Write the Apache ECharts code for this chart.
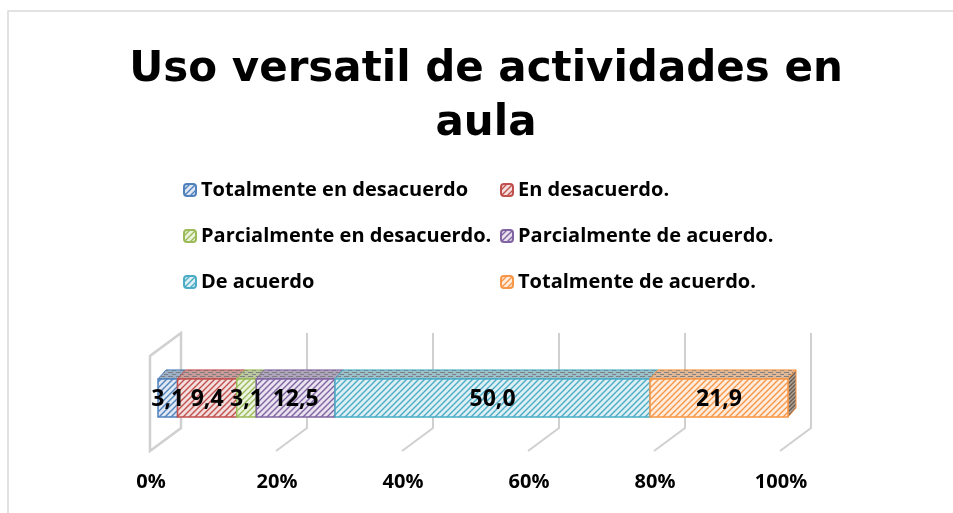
<!DOCTYPE html>
<html>
<head>
<meta charset="utf-8">
<script src="https://cdn.jsdelivr.net/npm/echarts@6/dist/echarts.min.js"></script>
<style>
  html, body { margin: 0; padding: 0; background: #fff; }
  #chart { width: 953px; height: 513px; }
</style>
</head>
<body>
<div id="chart"></div>
<script>
// datos
const categories = ['Totalmente en desacuerdo', 'En desacuerdo.', 'Parcialmente en desacuerdo.',
                    'Parcialmente de acuerdo.', 'De acuerdo', 'Totalmente de acuerdo.'];
const values = [3.1, 9.4, 3.1, 12.5, 50.0, 21.9];
const tickValues = [0, 20, 40, 60, 80, 100];
const colors = ['#4F81BD', '#C0504D', '#9BBB59', '#8064A2', '#4BACC6', '#F79646'];

// patrones rayados (como en excel)
function hatch(color, bgAlpha, step) {
    const c = document.createElement('canvas');
    c.width = step; c.height = step;
    const ctx = c.getContext('2d');
    ctx.fillStyle = '#fff';
    ctx.fillRect(0, 0, step, step);
    ctx.globalAlpha = bgAlpha;
    ctx.fillStyle = color;
    ctx.fillRect(0, 0, step, step);
    ctx.globalAlpha = 1;
    ctx.strokeStyle = color;
    ctx.lineWidth = 1.4;
    ctx.beginPath();
    ctx.moveTo(-1, step + 1); ctx.lineTo(step + 1, -1);
    ctx.moveTo(-1, 1); ctx.lineTo(1, -1);
    ctx.moveTo(step - 1, step + 1); ctx.lineTo(step + 1, step - 1);
    ctx.stroke();
    return { image: c, repeat: 'repeat' };
}
function brick(color) {
    const c = document.createElement('canvas');
    c.width = 8; c.height = 4;
    const ctx = c.getContext('2d');
    ctx.fillStyle = '#cfcfcf';
    ctx.fillRect(0, 0, 8, 4);
    ctx.globalAlpha = 0.4;
    ctx.fillStyle = color;
    ctx.fillRect(0, 0, 8, 4);
    ctx.globalAlpha = 0.9;
    ctx.fillStyle = '#7a7a7a';
    ctx.fillRect(0, 0, 5, 1);
    ctx.fillRect(4, 2, 5, 1);
    return { image: c, repeat: 'repeat' };
}

const fronts = colors.map(c => hatch(c, 0.18, 6));
const tops = colors.map(c => brick(c));
const sideFill = hatch('#6b5a4a', 0.55, 4);

// inicio acumulado de cada segmento
const starts = [];
let acc = 0;
values.forEach(v => { starts.push(acc); acc += v; });

const DX = 8, DY = -9;       // profundidad de la barra
const WX = 31, WY = -23;     // profundidad de las paredes
const WALL_H = 95;
const gridColor = '#d0d0d0';

const fmt = v => v.toFixed(1).replace('.', ',');

const series = categories.map((name, i) => ({
    name: name,
    type: 'custom',
    z: 5,
    itemStyle: { color: fronts[i], borderColor: colors[i], borderWidth: 1 },
    data: [[starts[i], starts[i] + values[i], 0]],
    renderItem: function (params, api) {
        const a = api.coord([api.value(0), 0]);
        const b = api.coord([api.value(1), 0]);
        const h = api.size([0, 1])[1] * 0.36;
        const x0 = a[0] + 7, x1 = b[0] + 7;
        const yt = a[1] - h / 2, yb = a[1] + h / 2;
        const children = [
            {
                type: 'polygon',
                shape: { points: [[x0, yt], [x0 + DX, yt + DY], [x1 + DX, yt + DY], [x1, yt]] },
                style: { fill: tops[i], stroke: colors[i], lineWidth: 1 }
            },
            {
                type: 'rect',
                shape: { x: x0, y: yt, width: x1 - x0, height: yb - yt },
                style: { fill: fronts[i], stroke: colors[i], lineWidth: 1.5 }
            },
            {
                type: 'text',
                z2: 10,
                style: {
                    x: (x0 + x1) / 2, y: (yt + yb) / 2 + 1,
                    text: fmt(values[i]),
                    fill: '#000',
                    font: 'bold 23px "Open Sans"',
                    align: 'center', verticalAlign: 'middle'
                }
            }
        ];
        if (i === categories.length - 1) {
            children.splice(1, 0, {
                type: 'polygon',
                shape: { points: [[x1, yt], [x1 + DX, yt + DY], [x1 + DX, yb + DY], [x1, yb]] },
                style: { fill: sideFill, stroke: colors[i], lineWidth: 1 }
            });
        }
        return { type: 'group', children: children };
    }
}));

// paredes / lineas de cuadricula 3d
series.unshift({
    name: 'grid3d',
    type: 'custom',
    z: 1,
    silent: true,
    data: tickValues.map(v => [v]),
    renderItem: function (params, api) {
        const p = api.coord([api.value(0), 0]);
        const floorY = params.coordSys.y + params.coordSys.height;
        const x = p[0] - 1;
        if (api.value(0) === 0) {
            return {
                type: 'polygon',
                shape: { points: [[x, floorY], [x + WX, floorY + WY], [x + WX, floorY + WY - WALL_H], [x, floorY - WALL_H]] },
                style: { fill: 'none', stroke: gridColor, lineWidth: 2.5 }
            };
        }
        return {
            type: 'polyline',
            shape: { points: [[x, floorY], [x + WX, floorY + WY], [x + WX, floorY + WY - WALL_H]] },
            style: { fill: 'none', stroke: gridColor, lineWidth: 2 }
        };
    }
});

const legendText = { fontFamily: 'Open Sans', fontWeight: 'bold', fontSize: 20, color: '#000' };

const chart = echarts.init(document.getElementById('chart'));
chart.setOption({
    animation: false,
    backgroundColor: '#fff',
    title: {
        text: 'Uso versatil de actividades en\naula',
        left: 481,
        top: 38,
        textAlign: 'center',
        textStyle: { fontFamily: 'DejaVu Sans', fontWeight: 'bold', fontSize: 42, lineHeight: 54, color: '#000' }
    },
    legend: [
        {
            data: [categories[0], categories[2], categories[4]],
            orient: 'vertical', left: 178, top: 175,
            itemWidth: 12, itemHeight: 12, itemGap: 26, textStyle: legendText
        },
        {
            data: [categories[1], categories[3], categories[5]],
            orient: 'vertical', left: 495, top: 175,
            itemWidth: 12, itemHeight: 12, itemGap: 26, textStyle: legendText
        }
    ],
    graphic: [{
        type: 'rect',
        shape: { x: 8, y: 11, width: 1000, height: 600 },
        style: { fill: 'none', stroke: '#d9d9d9', lineWidth: 1.5 },
        silent: true
    }],
    grid: { left: 151, right: 172, top: 345, bottom: 62 },
    xAxis: {
        type: 'value', min: 0, max: 100, interval: 20,
        axisLine: { show: false }, axisTick: { show: false }, splitLine: { show: false },
        axisLabel: { formatter: '{value}%', margin: 21, fontFamily: 'Open Sans', fontWeight: 'bold', fontSize: 20, color: '#000' }
    },
    yAxis: { type: 'category', data: [''], show: false },
    series: series
});
</script>
</body>
</html>
